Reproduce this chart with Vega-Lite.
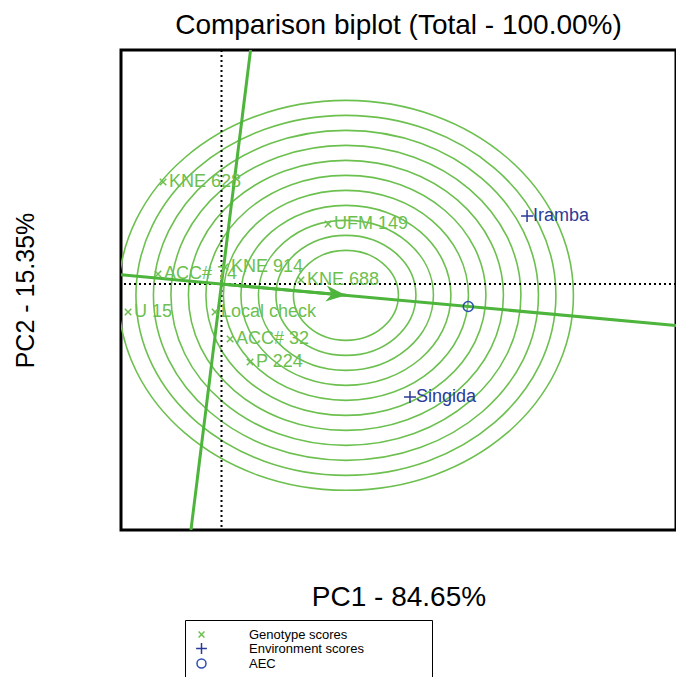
{
  "$schema": "https://vega.github.io/schema/vega-lite/v6.json",
  "width": 555,
  "height": 480,
  "autosize": {"type": "none"},
  "padding": {"left": 121, "top": 50, "right": 0, "bottom": 147},
  "background": "white",
  "title": {
    "text": "Comparison biplot (Total - 100.00%)",
    "fontSize": 28,
    "fontWeight": "normal",
    "font": "Liberation Sans",
    "color": "black",
    "anchor": "middle",
    "frame": "group",
    "baseline": "alphabetic",
    "offset": -13
  },
  "config": {
    "view": {"stroke": "black", "strokeWidth": 3},
    "font": "Liberation Sans"
  },
  "datasets": {
    "rings": [
      {"x": 0.711, "y": -0.0757, "r": 0.3},
      {"x": 0.711, "y": -0.0757, "r": 0.4},
      {"x": 0.711, "y": -0.0757, "r": 0.5},
      {"x": 0.711, "y": -0.0757, "r": 0.6},
      {"x": 0.711, "y": -0.0757, "r": 0.7},
      {"x": 0.711, "y": -0.0757, "r": 0.8},
      {"x": 0.711, "y": -0.0757, "r": 0.9},
      {"x": 0.711, "y": -0.0757, "r": 1.0},
      {"x": 0.711, "y": -0.0757, "r": 1.1},
      {"x": 0.711, "y": -0.0757, "r": 1.2},
      {"x": 0.711, "y": -0.0757, "r": 1.3}
    ],
    "lines": [
      {"line": "abscissa", "x": -0.5743, "y": 0.0611},
      {"line": "abscissa", "x": 2.5971, "y": -0.2763},
      {"line": "ordinate", "x": -0.1745, "y": -1.64},
      {"line": "ordinate", "x": 0.166, "y": 1.56},
      {"line": "arrow", "x": 0, "y": 0},
      {"line": "arrow", "x": 0.711, "y": -0.0757}
    ],
    "ideal": [
      {"x": 0.711, "y": -0.0757}
    ],
    "scores": [
      {"name": "KNE 628", "type": "Genotype scores", "x": -0.334, "y": 0.68},
      {"name": "UFM 149", "type": "Genotype scores", "x": 0.609, "y": 0.4},
      {"name": "ACC# 74", "type": "Genotype scores", "x": -0.363, "y": 0.067},
      {"name": "KNE 914", "type": "Genotype scores", "x": 0.02, "y": 0.113},
      {"name": "KNE 688", "type": "Genotype scores", "x": 0.454, "y": 0.027},
      {"name": "U 15", "type": "Genotype scores", "x": -0.534, "y": -0.187},
      {"name": "Local check", "type": "Genotype scores", "x": -0.037, "y": -0.187},
      {"name": "ACC# 32", "type": "Genotype scores", "x": 0.049, "y": -0.367},
      {"name": "P 224", "type": "Genotype scores", "x": 0.163, "y": -0.52},
      {"name": "Iramba", "type": "Environment scores", "x": 1.746, "y": 0.453},
      {"name": "Singida", "type": "Environment scores", "x": 1.077, "y": -0.753},
      {"name": "AEC", "type": "AEC", "x": 1.41, "y": -0.15}
    ]
  },
  "layer": [
    {
      "data": {"name": "rings"},
      "mark": {
        "type": "point",
        "shape": "M1,0C1,0.4734 0.5523,0.857 0,0.857C-0.5523,0.857 -1,0.4734 -1,0C-1,-0.4734 -0.5523,-0.857 0,-0.857C0.5523,-0.857 1,-0.4734 1,0Z",
        "filled": false,
        "strokeWidth": 1.6,
        "color": "#6cc04f",
        "opacity": 1,
        "clip": true
      },
      "encoding": {
        "x": {
          "field": "x", "type": "quantitative",
          "scale": {"domain": [-0.5743, 2.5971], "nice": false, "zero": false},
          "axis": {"title": "PC1 - 84.65%", "domain": false, "ticks": false, "labels": false, "grid": false, "titleFontSize": 28, "titleFontWeight": "normal", "titleColor": "black", "titlePadding": 53, "titleFont": "Liberation Sans"}
        },
        "y": {
          "field": "y", "type": "quantitative",
          "scale": {"domain": [-1.64, 1.56], "nice": false, "zero": false},
          "axis": {"title": "PC2 - 15.35%", "domain": false, "ticks": false, "labels": false, "grid": false, "titleFontSize": 25, "titleFontWeight": "normal", "titleColor": "black", "titlePadding": 88, "titleBaseline": "alphabetic", "titleFont": "Liberation Sans"}
        },
        "size": {
          "field": "r", "type": "quantitative",
          "scale": {"type": "pow", "exponent": 2, "domain": [0, 1.3], "range": [0, 207025]},
          "legend": null
        }
      }
    },
    {
      "data": {"values": [{}]},
      "mark": {"type": "rule", "color": "black", "strokeDash": [2, 3], "strokeWidth": 2},
      "encoding": {"x": {"datum": 0, "type": "quantitative"}}
    },
    {
      "data": {"values": [{}]},
      "mark": {"type": "rule", "color": "black", "strokeDash": [2, 3], "strokeWidth": 2},
      "encoding": {"y": {"datum": 0, "type": "quantitative"}}
    },
    {
      "data": {"name": "lines"},
      "mark": {"type": "line", "color": "#4db43c", "strokeWidth": 3, "clip": true},
      "encoding": {
        "x": {"field": "x", "type": "quantitative", "scale": {"domain": [-0.5743, 2.5971], "nice": false, "zero": false}},
        "y": {"field": "y", "type": "quantitative", "scale": {"domain": [-1.64, 1.56], "nice": false, "zero": false}},
        "detail": {"field": "line", "type": "nominal"}
      }
    },
    {
      "data": {"name": "ideal"},
      "mark": {"type": "point", "shape": "M0,0L-1,-0.4L-0.7,0L-1,0.4Z", "filled": true, "color": "#4db43c", "size": 1600, "angle": 5.2, "opacity": 1},
      "encoding": {
        "x": {"field": "x", "type": "quantitative", "scale": {"domain": [-0.5743, 2.5971], "nice": false, "zero": false}},
        "y": {"field": "y", "type": "quantitative", "scale": {"domain": [-1.64, 1.56], "nice": false, "zero": false}}
      }
    },
    {
      "data": {"name": "scores"},
      "mark": {"type": "point", "filled": false, "size": 100, "strokeWidth": 1.5, "opacity": 1},
      "encoding": {
        "x": {"field": "x", "type": "quantitative", "scale": {"domain": [-0.5743, 2.5971], "nice": false, "zero": false}},
        "y": {"field": "y", "type": "quantitative", "scale": {"domain": [-1.64, 1.56], "nice": false, "zero": false}},
        "shape": {
          "field": "type", "type": "nominal",
          "scale": {"domain": ["Genotype scores", "Environment scores", "AEC"], "range": ["M-0.65,-0.65L0.65,0.65M0.65,-0.65L-0.65,0.65", "M-1.2,0L1.2,0M0,-1.2L0,1.2", "circle"]},
          "legend": {"title": "\u200b                                                                     \u200b", "orient": "none", "legendX": 64, "legendY": 570, "strokeColor": "black", "padding": 8, "labelFontSize": 13, "labelFont": "Liberation Sans", "labelColor": "black", "labelOffset": 41, "symbolOffset": 2, "rowPadding": -3.5, "symbolStrokeWidth": 1.5, "symbolSize": 81, "titleOrient": "bottom", "titleFontSize": 12, "titlePadding": 8, "titleLimit": 500}
        },
        "color": {
          "field": "type", "type": "nominal",
          "scale": {"domain": ["Genotype scores", "Environment scores", "AEC"], "range": ["#6cc04f", "#2b3a98", "#2b50b0"]},
          "legend": {"title": "\u200b                                                                     \u200b", "orient": "none", "legendX": 64, "legendY": 570, "strokeColor": "black", "padding": 8, "labelFontSize": 13, "labelFont": "Liberation Sans", "labelColor": "black", "labelOffset": 41, "symbolOffset": 2, "rowPadding": -3.5, "symbolStrokeWidth": 1.5, "symbolSize": 81, "titleOrient": "bottom", "titleFontSize": 12, "titlePadding": 8, "titleLimit": 500}
        }
      }
    },
    {
      "data": {"name": "scores"},
      "transform": [{"filter": "datum.type !== 'AEC'"}],
      "mark": {"type": "text", "align": "left", "baseline": "middle", "dx": 6, "fontSize": 18, "font": "Liberation Sans"},
      "encoding": {
        "x": {"field": "x", "type": "quantitative", "scale": {"domain": [-0.5743, 2.5971], "nice": false, "zero": false}},
        "y": {"field": "y", "type": "quantitative", "scale": {"domain": [-1.64, 1.56], "nice": false, "zero": false}},
        "text": {"field": "name"},
        "color": {"condition": {"test": "datum.type === 'Genotype scores'", "value": "#6cc04f"}, "value": "#2b3a98"}
      }
    }
  ]
}
